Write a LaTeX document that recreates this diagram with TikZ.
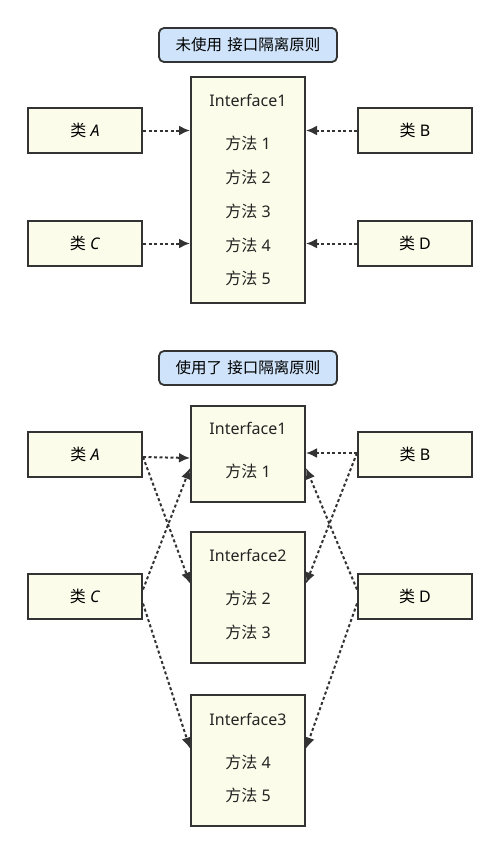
\documentclass[tikz,border=0pt]{standalone}
\usepackage{fontspec}
\setmainfont{Noto Sans}
\newfontfamily\cjk{Noto Sans CJK SC}
\usetikzlibrary{arrows.meta}
\definecolor{boxfill}{HTML}{FCFCEA}
\definecolor{titlefill}{HTML}{CFE4FA}
\definecolor{inkgray}{HTML}{333333}

\begin{document}
\begin{tikzpicture}[x=1pt,y=-1pt,
        classbox/.style={draw=inkgray,line width=2pt,fill=boxfill,minimum width=114pt,minimum height=45pt,inner sep=0pt,font=\fontsize{16}{19}\selectfont},
        ifacebox/.style={draw=inkgray,line width=2pt,fill=boxfill,minimum width=114pt,inner sep=0pt},
        titlebox/.style={draw=inkgray,line width=1.8pt,fill=titlefill,rounded corners=5pt,minimum width=178pt,minimum height=34pt,inner sep=0pt,font=\cjk\fontsize{15.5}{18}\selectfont},
        txt/.style={inner sep=0pt,text=inkgray!70!black,font=\fontsize{16}{19}\selectfont},
        dep/.style={draw=inkgray,line width=2pt,dash pattern=on 3pt off 2.5pt,-{Latex[length=11pt,width=10pt]}}]
        
        \useasboundingbox (0,0) rectangle (500,854);
        
        \node[titlebox] (t1) at (248,45) {未使用\,\,接口隔离原则};
        \node[ifacebox,minimum height=226pt] (if1) at (248,190) {};
        \node[txt] (if1n) at (248,100) {Interface1};
        \node[txt] (m1) at (248,143) {{\cjk 方法} 1};
        \node[txt] (m2) at (248,177) {{\cjk 方法} 2};
        \node[txt] (m3) at (248,211) {{\cjk 方法} 3};
        \node[txt] (m4) at (248,245) {{\cjk 方法} 4};
        \node[txt] (m5) at (248,278) {{\cjk 方法} 5};
        \node[classbox] (a1) at (85,130.5) {{\cjk 类} \textit{A}};
        \node[classbox] (c1) at (85,243.5) {{\cjk 类} \textit{C}};
        \node[classbox] (b1) at (415,130.5) {{\cjk 类} B};
        \node[classbox] (d1) at (415,243.5) {{\cjk 类} D};
        \draw[dep] (a1.east) -- (a1.east -| if1.west);
        \draw[dep] (c1.east) -- (c1.east -| if1.west);
        \draw[dep] (b1.west) -- (b1.west -| if1.east);
        \draw[dep] (d1.west) -- (d1.west -| if1.east);
        
        \node[titlebox] (t2) at (248,368) {使用了\,\,接口隔离原则};
        \node[ifacebox,minimum height=96pt] (if1b) at (248,454) {};
        \node[txt] (if1bn) at (248,428) {Interface1};
        \node[txt] (n1) at (248,471) {{\cjk 方法} 1};
        \node[ifacebox,minimum height=131pt] (if2) at (248,597.5) {};
        \node[txt] (if2n) at (248,555) {Interface2};
        \node[txt] (n2) at (248,598) {{\cjk 方法} 2};
        \node[txt] (n3) at (248,632) {{\cjk 方法} 3};
        \node[ifacebox,minimum height=131pt] (if3) at (248,760.5) {};
        \node[txt] (if3n) at (248,719) {Interface3};
        \node[txt] (n4) at (248,762) {{\cjk 方法} 4};
        \node[txt] (n5) at (248,795) {{\cjk 方法} 5};
        \node[classbox] (a2) at (85,454) {{\cjk 类} \textit{A}};
        \node[classbox] (c2) at (85,596.5) {{\cjk 类} \textit{C}};
        \node[classbox] (b2) at (415,454) {{\cjk 类} B};
        \node[classbox] (d2) at (415,596.5) {{\cjk 类} D};
        \draw[dep] ([yshift=-3pt]a2.east) -- ([yshift=-4pt]if1b.west);
        \draw[dep] ([yshift=-3pt]a2.east) -- ([yshift=14pt]if2.west);
        \draw[dep] ([yshift=7pt]c2.east) -- ([yshift=-14pt]if1b.west);
        \draw[dep] ([yshift=-7pt]c2.east) -- ([yshift=12pt]if3.west);
        \draw[dep] ([yshift=1pt]b2.west) -- ([yshift=1pt]if1b.east);
        \draw[dep] ([yshift=1pt]b2.west) -- ([yshift=14pt]if2.east);
        \draw[dep] ([yshift=7pt]d2.west) -- ([yshift=-14pt]if1b.east);
        \draw[dep] ([yshift=-7pt]d2.west) -- ([yshift=12pt]if3.east);
    \end{tikzpicture}
\end{document}
